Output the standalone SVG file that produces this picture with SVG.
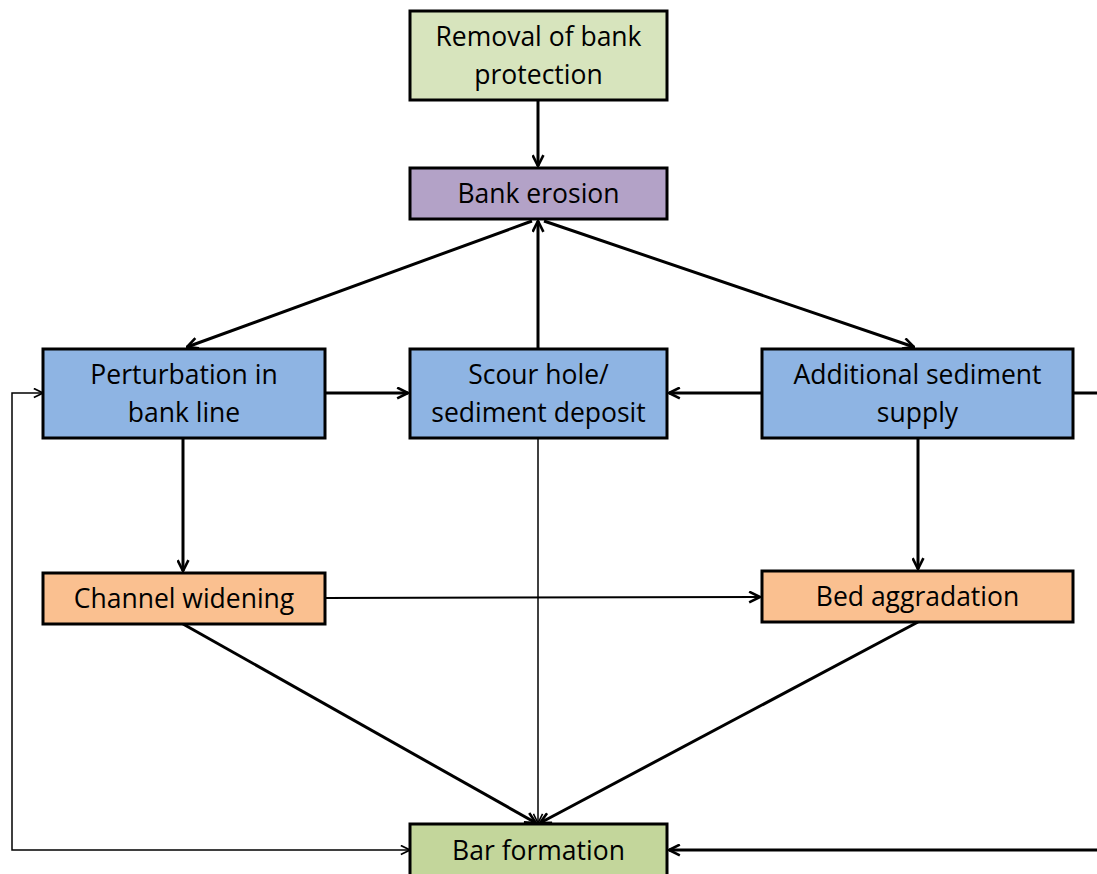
<svg xmlns="http://www.w3.org/2000/svg" width="1097" height="874" viewBox="0 0 1097 874">
<style>
.box{stroke:#000;stroke-width:3}
.t{font-family:"Open Sans","Liberation Sans",sans-serif;font-size:26.5px;fill:#000;text-anchor:middle}
.thick{fill:none;stroke:#000;stroke-width:3}
.mid{fill:none;stroke:#000;stroke-width:2}
.thin{fill:none;stroke:#000;stroke-width:1.5}
</style>
<defs>
<marker id="a" viewBox="0 0 12 12" refX="11" refY="6" markerWidth="13" markerHeight="13" markerUnits="userSpaceOnUse" orient="auto-start-reverse">
<path d="M1,1 L11,6 L1,11" fill="none" stroke="#000" stroke-width="2.4"/>
</marker>
<marker id="b" viewBox="0 0 12 12" refX="11" refY="6" markerWidth="11" markerHeight="11" markerUnits="userSpaceOnUse" orient="auto-start-reverse">
<path d="M1,1 L11,6 L1,11" fill="none" stroke="#000" stroke-width="1.8"/>
</marker>
</defs>
<rect width="1097" height="874" fill="#fff"/>
<g id="connectors">
<path class="thick" d="M538,100 V166" marker-end="url(#a)"/>
<path class="thick" d="M538,349 V221" marker-end="url(#a)"/>
<path class="thick" d="M532,221 L187,347" marker-end="url(#a)"/>
<path class="thick" d="M544,221 L914,347" marker-end="url(#a)"/>
<path class="thick" d="M325,393 H408" marker-end="url(#a)"/>
<path class="thick" d="M762,393 H669" marker-end="url(#a)"/>
<path class="thick" d="M1073,393 H1100 V850 H669" marker-end="url(#a)"/>
<path class="thin" d="M43,393 H12 V850 H410" marker-start="url(#b)" marker-end="url(#b)"/>
<path class="thick" d="M183,438 V571" marker-end="url(#a)"/>
<path class="thick" d="M918,438 V569" marker-end="url(#a)"/>
<path class="mid" d="M325,598 L760,597" marker-end="url(#a)"/>
<path class="thick" d="M183,624 L536,823" marker-end="url(#a)"/>
<path class="thick" d="M918,622 L540,823" marker-end="url(#a)"/>
<path class="thin" d="M538,438 V823" marker-end="url(#b)"/>
</g>
<g id="removal"><rect class="box" x="410" y="11" width="257" height="89" fill="#d7e4bd"/><text class="t" x="538.5" y="46">Removal of bank</text><text class="t" x="538.5" y="84">protection</text></g>
<g id="bank-erosion"><rect class="box" x="410" y="168" width="257" height="51" fill="#b3a2c7"/><text class="t" x="538.5" y="203">Bank erosion</text></g>
<g id="perturbation"><rect class="box" x="43" y="349" width="282" height="89" fill="#8eb4e3"/><text class="t" x="184" y="384">Perturbation in</text><text class="t" x="184" y="422">bank line</text></g>
<g id="scour"><rect class="box" x="410" y="349" width="257" height="89" fill="#8eb4e3"/><text class="t" x="538.5" y="384">Scour hole/</text><text class="t" x="538.5" y="422">sediment deposit</text></g>
<g id="additional"><rect class="box" x="762" y="349" width="311" height="89" fill="#8eb4e3"/><text class="t" x="917.5" y="384">Additional sediment</text><text class="t" x="917.5" y="422">supply</text></g>
<g id="channel-widening"><rect class="box" x="43" y="573" width="282" height="51" fill="#fac090"/><text class="t" x="184" y="608">Channel widening</text></g>
<g id="bed-aggradation"><rect class="box" x="762" y="571" width="311" height="51" fill="#fac090"/><text class="t" x="917.5" y="606">Bed aggradation</text></g>
<g id="bar-formation"><rect class="box" x="410" y="824" width="257" height="60" fill="#c3d69b"/><text class="t" x="538.5" y="860">Bar formation</text></g>
</svg>
